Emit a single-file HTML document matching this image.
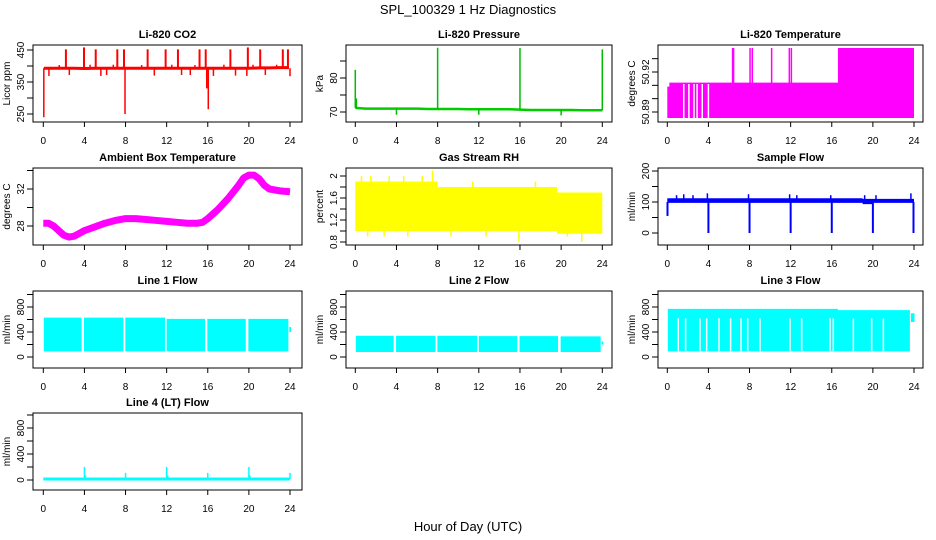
<!DOCTYPE html>
<html><head><meta charset="utf-8"><style>
body{margin:0;background:#fff}
svg{display:block;font-family:"Liberation Sans",sans-serif}
</style></head><body>
<svg id="c" width="936" height="540" viewBox="0 0 936 540">
<text x="468" y="14" text-anchor="middle" font-size="13">SPL_100329  1 Hz Diagnostics</text>
<text x="468" y="531" text-anchor="middle" font-size="13">Hour of Day (UTC)</text>
</svg>
<script>
// ---- data arrays ----
const xTicks=[0,4,8,12,16,20,24];
const co2BaseH=[0.05,1,2,3,4,5,6,7,8,9,10,11,12,13,14,15,16,17,18,19,20,21,22,23,23.9];
const co2BaseV=[393,393,393,393,392,393,393,393,393,393,393,393,393,393,393,393,393,393,393,393,393,394,394,395,395];
const co2UpH=[2.2,3.96,5.1,7.2,7.85,10.15,11.9,13.1,15.2,15.8,18.2,19.9,21.1,23.3,23.8];
const co2UpV=[452,458,452,452,452,452,452,452,452,452,452,458,452,452,452];
const co2DnH=[0.05,7.95,16.05,15.9,24.0];
const co2DnV=[240,250,265,330,368];
const co2SmH=[0.55,2.53,5.6,6.16,10.8,13.45,14.3,16.55,18.7,19.8,21.6,1.55,4.55,6.81,9.57,12.5,14.75,17.57,20.4,22.7];
const co2SmV=[369,372,369,372,370,372,372,369,370,369,372,403,404,404,403,404,403,404,404,404];
const presH=[0,1,2,3,4,5,6,7,8,9,10,11,12,13,14,15,16,17,18,19,20,21,22,23,24];
const presV=[71.2,71.0,71.0,71.0,71.0,71.0,71.0,70.9,70.9,70.9,70.9,70.8,70.8,70.8,70.8,70.8,70.7,70.6,70.6,70.6,70.6,70.6,70.5,70.5,70.5];
const presSpH=[0,8,16,24,4,12,20,0.1];
const presSpV=[82.4,88.9,88.8,88.4,69.2,69.2,69.0,74];
const tempHiH=[0,0.2,16.6,24];
const tempHiV=[50.909,50.912,50.938,50.938];
const tempLo=50.8855;
const tempGapH=[1.6,2.1,2.6,2.9,3.4,4.0];
const tempSpH=[6.35,6.45,8.05,8.27,10.15,11.87,12.07];
const ambH=[0,0.5,1,1.5,2,2.5,3,3.5,4,5,6,7,8,9,10,11,12,13,14,15,15.5,16,17,18,19,19.5,20,20.5,21,21.5,22,23,24];
const ambV=[28.3,28.3,28.0,27.5,27.0,26.8,26.9,27.2,27.5,27.9,28.3,28.6,28.8,28.8,28.7,28.6,28.5,28.4,28.3,28.3,28.4,28.8,29.8,31.0,32.4,33.2,33.5,33.5,33.1,32.4,32.0,31.8,31.7];
const rhH=[0,2,4,6,8,10,12,14,16,18,19.6,22,24];
const rhHi=[1.9,1.9,1.9,1.9,1.8,1.8,1.8,1.8,1.8,1.8,1.7,1.7,1.7];
const rhLo=[1.0,1.0,1.0,1.0,1.0,1.0,1.0,1.0,1.0,1.0,0.95,0.95,0.95];
const rhSpH=[0.6,1.5,3.3,4.7,6.5,7.5,11.4,17.5,1.2,2.8,5.1,9.3,12.7,15.9,20.6,22.0];
const rhSpV=[2.0,2.0,2.0,2.0,2.0,2.1,1.9,1.9,0.9,0.9,0.9,0.9,0.9,0.8,0.9,0.8];
const sfH=[0,4,8,12,16,19,20,24];
const sfHi=[112,112,112,112,112,110,110,112];
const sfLo=[97,97,97,97,97,93,97,97];
const sfDipH=[0.02,4,8,12,16,20,23.95];
const sfDipV=[55,0,0,0,0,0,0];
const sfUpH=[0.9,1.6,2.5,3.9,7.9,11.9,12.6,15.9,19.2,20.3,23.7];
const sfUpV=[122,125,122,128,125,125,122,122,122,122,128];
const l1SegA=[0.05,3.96,7.98,12.0,15.96,19.95,23.93];
const l1SegB=[3.73,7.79,11.84,15.73,19.7,23.84,24.1];
const l1Top=[630,630,630,610,610,610,480];
const l1Bot=[90,90,90,90,90,90,400];
const l2Top=[340,340,340,335,335,330,250];
const l2Bot=[80,80,80,80,80,80,200];
const l3SegA=[0.05,16.6,23.7];
const l3SegB=[16.6,23.6,24.05];
const l3Top=[770,750,700];
const l3Bot=[90,90,560];
const l3GapH=[1.07,1.78,3.18,3.83,5.03,6.16,7.17,7.82,9.02,11.94,13.07,15.83,16.15,18.1,19.88,21.02];
const l4SpH=[4,8,12,16,20,24,4.1,12.1,20.1];
const l4SpV=[200,110,200,110,200,110,70,70,70];
const l4Base=15;

// ---- layout ----
const NS='http://www.w3.org/2000/svg';
const svg=document.getElementById('c');
const colL=[33,346,658],colR=[302,612,923],colX0=[43.3,355.3,667.3],colX24=[290,602.3,914];
const rowT=[45,168,291,413];
function mk(tag,at,parent){const e=document.createElementNS(NS,tag);for(const k in at)e.setAttribute(k,at[k]);(parent||svg).appendChild(e);return e;}

function panel(name,title,ylab,col,row,ya,ticks,labs){
  const g=mk('g',{});
  
  
  const L=colL[col],R=colR[col],T=rowT[row],B=T+77;
  const X=h=>colX0[col]+(colX24[col]-colX0[col])*h/24;
  const Y=v=>ya[1]+(v-ya[0])*(ya[3]-ya[1])/(ya[2]-ya[0]);
  const id='cl'+name;
  const cp=mk('clipPath',{id:id},g);mk('rect',{x:L,y:T,width:R-L,height:B-T},cp);
  const data=mk('g',{'clip-path':'url(#'+id+')'},g);
  
  
  const fr=mk('rect',{x:L,y:T,width:R-L,height:B-T,fill:'none',stroke:'#000','stroke-width':1},g);
  
  
  const tt=mk('text',{x:(L+R)/2,y:T-7,'text-anchor':'middle','font-size':11,'font-weight':'bold'},g);
  tt.textContent=title;
  
  
  const yl=mk('text',{x:0,y:0,'text-anchor':'middle','font-size':10,transform:`translate(${L-23},${(T+B)/2}) rotate(-90)`},g);
  yl.textContent=ylab;
  
  
  const xa=mk('g',{},g);
  
  
  mk('line',{x1:X(0),x2:X(24),y1:B,y2:B,stroke:'#000'},xa);
  xTicks.forEach(h=>{mk('line',{x1:X(h),x2:X(h),y1:B,y2:B+5,stroke:'#000'},xa);
    const t=mk('text',{x:X(h),y:B+22,'text-anchor':'middle','font-size':10},xa);t.textContent=h;});
  const yaG=mk('g',{},g);
  
  
  mk('line',{x1:L,x2:L,y1:Y(ticks[0]),y2:Y(ticks[ticks.length-1]),stroke:'#000'},yaG);
  ticks.forEach(v=>mk('line',{x1:L-6,x2:L,y1:Y(v),y2:Y(v),stroke:'#000'},yaG));
  labs.forEach(v=>{const t=mk('text',{x:0,y:0,'text-anchor':'middle','font-size':10,transform:`translate(${L-9},${Y(v)}) rotate(-90)`},yaG);t.textContent=v;});
  return {g:data,X,Y};
}
function vbar(p,h,a,b,col,w){const e=mk('line',{x1:p.X(h),x2:p.X(h),y1:p.Y(a),y2:p.Y(b),stroke:col,'stroke-width':w||1.5},p.g);return e;}
function poly(p,H,V,col,w){return mk('polyline',{points:H.map((h,i)=>p.X(h)+','+p.Y(V[i])).join(' '),fill:'none',stroke:col,'stroke-width':w,'stroke-linejoin':'round'},p.g);}

// CO2
let p=panel('co2-panel','Li-820 CO2','Licor ppm',0,0,[250,114,450,50],[250,300,350,400,450],[250,350,450]);
const co2Line=poly(p,co2BaseH,co2BaseV,'#ff0000',3);


co2UpH.forEach((h,i)=>vbar(p,h,co2BaseV[0],co2UpV[i],'#ff0000',2));
co2DnH.forEach((h,i)=>vbar(p,h,co2BaseV[0],co2DnV[i],'#ff0000',1.5));
co2SmH.forEach((h,i)=>vbar(p,h,co2BaseV[0],co2SmV[i],'#ff0000',1.5));

// Pressure
p=panel('pressure-panel','Li-820 Pressure','kPa',1,0,[70,112,80,78],[70,75,80,85],[70,80]);
const pl=poly(p,presH,presV,'#00cc00',2.5);


presSpH.forEach((h,i)=>vbar(p,h,presV[Math.min(24,Math.round(h))],presSpV[i],'#00bb00',1.5));

// Temperature
p=panel('temperature-panel','Li-820 Temperature','degrees C',2,0,[50.89,112,50.92,72],[50.89,50.9,50.91,50.92,50.93],[50.89,50.92]);
{let d='';for(let i=0;i<tempHiH.length-1;i++){d+=`M${p.X(tempHiH[i])},${p.Y(tempLo)}V${p.Y(tempHiV[i])}H${p.X(tempHiH[i+1])}V${p.Y(tempLo)}Z`;}
const a=mk('path',{d:d,fill:'#ff00ff'},p.g);

}
tempGapH.forEach(h=>vbar(p,h,tempLo,50.911,'#ffffff',1.5));
tempSpH.forEach(h=>vbar(p,h,tempLo,50.938,'#ff00ff',1.5));

// Ambient
p=panel('ambient-panel','Ambient Box Temperature','degrees C',0,1,[28,226,32,189],[28,30,32,34],[28,32]);
const al=poly(p,ambH,ambV,'#ff00ff',7);



// RH
p=panel('rh-panel','Gas Stream RH','percent',1,1,[0.8,242,2.0,176],[0.8,1.0,1.2,1.4,1.6,1.8,2.0],[0.8,1.2,1.6,2.0]);
{let d='';for(let i=0;i<rhH.length-1;i++){d+=`M${p.X(rhH[i])},${p.Y(rhLo[i])}V${p.Y(rhHi[i])}H${p.X(rhH[i+1])}V${p.Y(rhLo[i])}Z`;}
const a=mk('path',{d:d,fill:'#ffff00'},p.g);

}
rhSpH.forEach((h,i)=>vbar(p,h,1.4,rhSpV[i],'#ffff00',1.5));

// Sample flow
p=panel('sample-flow-panel','Sample Flow','ml/min',2,1,[0,233,200,171],[0,50,100,150,200],[0,100,200]);
{let d='';for(let i=0;i<sfH.length-1;i++){d+=`M${p.X(sfH[i])},${p.Y(sfLo[i])}V${p.Y(sfHi[i])}H${p.X(sfH[i+1])}V${p.Y(sfLo[i])}Z`;}
const a=mk('path',{d:d,fill:'#0000ff'},p.g);

}
sfDipH.forEach((h,i)=>vbar(p,h,100,sfDipV[i],'#0000ff',2));
sfUpH.forEach((h,i)=>vbar(p,h,105,sfUpV[i],'#0000ff',1.5));

// Line flows
function segs(p,A,B,T,Bo){let d='';A.forEach((a,i)=>{d+=`M${p.X(a)},${p.Y(Bo[i])}V${p.Y(T[i])}H${p.X(B[i])}V${p.Y(Bo[i])}Z`;});
return mk('path',{d:d,fill:'#00ffff'},p.g);}
p=panel('line1-panel','Line 1 Flow','ml/min',0,2,[0,357,800,307],[0,200,400,600,800,1000],[0,400,800]);
let s=segs(p,l1SegA,l1SegB,l1Top,l1Bot);


p=panel('line2-panel','Line 2 Flow','ml/min',1,2,[0,357,800,307],[0,200,400,600,800,1000],[0,400,800]);
s=segs(p,l1SegA,l1SegB,l2Top,l2Bot);


p=panel('line3-panel','Line 3 Flow','ml/min',2,2,[0,357,800,307],[0,200,400,600,800,1000],[0,400,800]);
s=segs(p,l3SegA,l3SegB,l3Top,l3Bot);


l3GapH.forEach(h=>vbar(p,h,100,620,'#ffffff',1.5));

// Line 4
p=panel('line4-panel','Line 4 (LT) Flow','ml/min',0,3,[0,480,800,428],[0,200,400,600,800,1000],[0,400,800]);
{const b=mk('line',{x1:p.X(0),x2:p.X(24),y1:p.Y(l4Base),y2:p.Y(l4Base),stroke:'#00ffff','stroke-width':3},p.g);

}
l4SpH.forEach((h,i)=>vbar(p,h,l4Base,l4SpV[i],'#00ffff',1.5));
</script>
</body></html>
